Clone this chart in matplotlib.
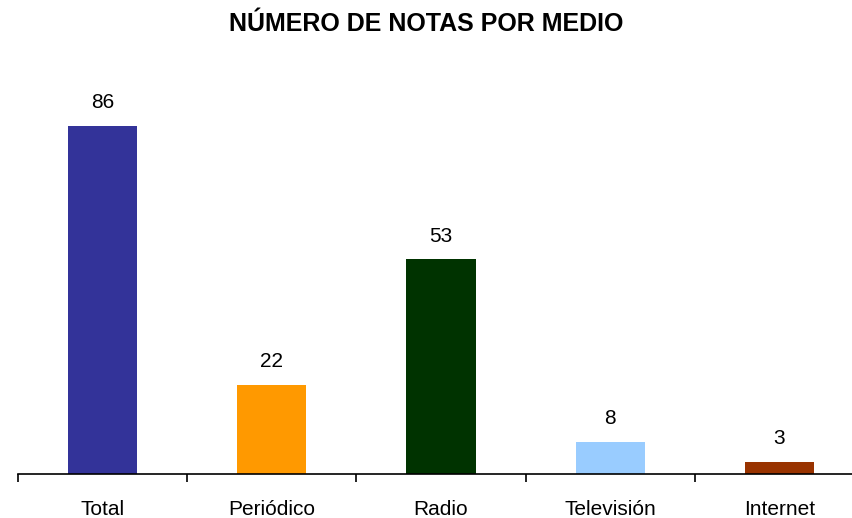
import matplotlib.pyplot as plt
import numpy as np

plt.rcParams['font.family'] = ['Liberation Sans', 'DejaVu Sans']

categories = ['Total', 'Periódico', 'Radio', 'Televisión', 'Internet']
values = [86, 22, 53, 8, 3]
colors = ['#333399', '#FF9900', '#003300', '#99CCFF', '#993300']

fig = plt.figure(figsize=(8.52, 5.18), dpi=100)
# the last category boundary falls just past the right edge of the image
ax = fig.add_axes([18 / 852, 44 / 518, 846 / 852, 405 / 518])

x = np.arange(len(categories))
ax.bar(x, values, width=0.41, color=colors)
for xi, v in zip(x, values):
    ax.text(xi, v + 3.4, str(v), ha='center', va='bottom', fontsize=15)

ax.set_xlim(-0.5, len(categories) - 0.5)
ax.set_ylim(0, 100)
ax.set_yticks([])
for s in ['top', 'right', 'left']:
    ax.spines[s].set_visible(False)
ax.spines['bottom'].set_linewidth(1.2)

ax.set_xticks(x)
ax.set_xticklabels(categories, fontsize=15)
ax.tick_params(axis='x', which='major', length=0, pad=19)
ax.set_xticks(np.arange(len(categories) + 1) - 0.5, minor=True)
ax.tick_params(axis='x', which='minor', length=6, width=1.2, direction='out')

fig.text(0.5, 1 - 31 / 518, 'NÚMERO DE NOTAS POR MEDIO', ha='center', va='baseline',
         fontsize=18, fontweight='bold')

fig.savefig('out.png', dpi=100)
